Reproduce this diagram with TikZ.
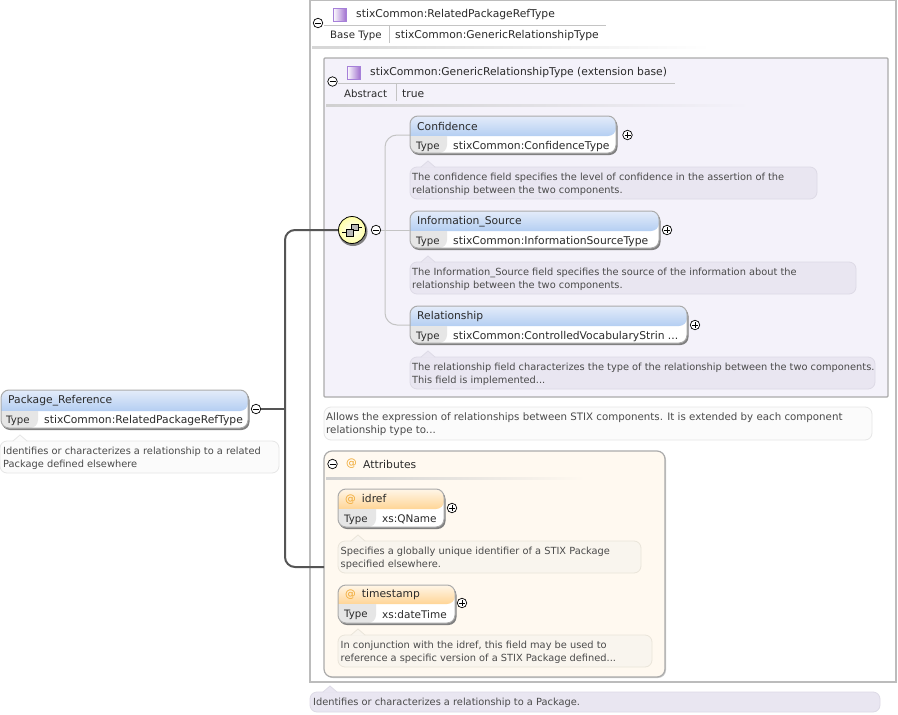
\documentclass[tikz,border=0pt]{standalone}
\usepackage{fontspec}
\setmainfont{DejaVu Sans}
\usetikzlibrary{calc,shadings}
\definecolor{txt}{HTML}{2A2A2A}
\definecolor{doctxt}{HTML}{4A4A4A}
\definecolor{edgegray}{HTML}{ABABAB}
\definecolor{shadowgray}{HTML}{808080}
\definecolor{thickc}{HTML}{555555}
\definecolor{thinc}{HTML}{C4C4C4}
\definecolor{lav}{HTML}{E9E6F1}
\definecolor{lavedge}{HTML}{DDDAE6}
\definecolor{wdoc}{HTML}{FBFBFB}
\definecolor{wedge}{HTML}{E6E6E6}
\definecolor{cdoc}{HTML}{F9F5EE}
\definecolor{cedge}{HTML}{EAE5DA}
\definecolor{basebg}{HTML}{F4F2FA}
\definecolor{attrbg}{HTML}{FFF9F0}
\definecolor{cellgray}{HTML}{E6E6E6}
\definecolor{atcolor}{HTML}{F0A830}
\definecolor{bluetop}{HTML}{E4ECFA}
\definecolor{bluebot}{HTML}{B4CEF2}
\definecolor{orgtop}{HTML}{FFF6E8}
\definecolor{orgbot}{HTML}{FFD596}
\tikzset{
  lbl/.style={inner sep=0pt,anchor=west,text=txt,font=\fontsize{10.75}{12}\selectfont},
  vlbl/.style={lbl,yshift=-1.5pt},
  klbl/.style={lbl,yshift=-1.5pt,font=\fontsize{10.2}{12}\selectfont},
  xlbl/.style={lbl,yshift=-1.5pt,font=\fontsize{10.5}{12}\selectfont},
  dlbl/.style={inner sep=0pt,anchor=west,align=left,yshift=-1pt,text=doctxt,font=\fontsize{9.82}{13}\selectfont},
  dlblw/.style={dlbl,font=\fontsize{10.25}{13}\selectfont},
  tog/.style={circle,draw=black,fill=white,line width=.7pt,minimum size=9.5pt,inner sep=0pt},
  thinline/.style={draw=thinc,line width=1pt},
  thickline/.style={draw=thickc,line width=2pt},
  typesq/.style={draw=none,minimum size=13pt,inner sep=0pt,left color=white,right color=purple!45!blue!55!white},
}
\newcommand{\xminus}[3]{\node[tog] (#1) at (#2,#3) {};\draw[line width=.8pt] ($(#1.center)+(-3,0)$) -- ($(#1.center)+(3,0)$);}
\newcommand{\xplus}[3]{\node[tog] (#1) at (#2,#3) {};\draw[line width=.8pt] ($(#1.center)+(-3,0)$) -- ($(#1.center)+(3,0)$);\draw[line width=.8pt] ($(#1.center)+(0,-3)$) -- ($(#1.center)+(0,3)$);}
% name, x, top, right, split, bottom, cell right, palette (blue/org), title x offset
\newcommand{\xelem}[9]{%
  \fill[shadowgray,rounded corners=8] (#2+1,#3+2) rectangle (#4+1.5,#6+2);
  \fill[white,rounded corners=8] (#2,#3) rectangle (#4,#6);
  \shade[top color=#8top,bottom color=#8bot,rounded corners=8]
     (#2,#5) -- (#2,#3) -- (#4,#3) -- (#4,#5) [sharp corners] -- cycle;
  \fill[cellgray,rounded corners=8] (#2,#5) -- (#2,#6) -- (#7,#6) [sharp corners] -- (#7,#5) -- cycle;
  \draw[edgegray,line width=1pt,rounded corners=8] (#2,#3) rectangle (#4,#6);
  \node[lbl] (#1-title) at (#2+#9,{(#3+#5)/2+.5}) {\xtitle};
  \coordinate (#1-w) at (#2,#5-1);
}
\newcommand{\xdoc}[8]{%
  \draw[draw=#8,fill=#7,line width=.8pt,rounded corners=7] (#2,#3) rectangle (#4,#5);
  \fill[#7] (#6-7,#3+.6) -- (#6,#3-6) -- (#6+7,#3+.6) -- cycle;
  \draw[#8,line width=.8pt] (#6-7,#3) -- (#6,#3-6) -- (#6+7,#3);
  \coordinate (#1) at (#6,#3-6);
}
\begin{document}
\begin{tikzpicture}[x=1pt,y=-1pt]
\useasboundingbox (0,0) rectangle (898,715);
\fill[white] (0,0) rectangle (898,715);

% outer type box
\draw[draw=edgegray!80!white,fill=white,line width=1.2pt] (310,.6) rectangle (896,682);
\node[typesq] (outersq) at (339.5,14.5) {};
\draw[purple!40!blue!50!white,line width=.5pt] (outersq.south west) rectangle (outersq.north east);
\node[lbl] (outertitle) at (356,14.5) {stixCommon:RelatedPackageRefType};
\draw[thinc,line width=.8pt] (324,25.5) -- (606,25.5);
\draw[thinc,line width=.8pt] (389.5,26) -- (389.5,43);
\node[klbl] (outerk) at (330,34) {Base Type};
\node[vlbl] (outerv) at (395,34) {stixCommon:GenericRelationshipType};
\shade[left color=thinc!70!white,right color=white] (312,46) rectangle (710,48);
\xminus{outermin}{318}{23}

% base type box
\draw[draw=edgegray,fill=basebg,line width=1.2pt,rounded corners=1] (324,58) rectangle (888,397);
\node[typesq] (basesq) at (353.5,72.5) {};
\draw[purple!40!blue!50!white,line width=.5pt] (basesq.south west) rectangle (basesq.north east);
\node[lbl] (basetitle) at (370,72.5) {stixCommon:GenericRelationshipType (extension base)};
\draw[thinc,line width=.8pt] (338,83.5) -- (675,83.5);
\draw[thinc,line width=.8pt] (396.5,84) -- (396.5,101);
\node[klbl] (basek) at (344,92) {Abstract};
\node[vlbl] (basev) at (402,92) {true};
\shade[left color=thinc!80!white,right color=basebg] (326,104.5) rectangle (750,106);
\xminus{basemin}{332.5}{81.5}

% tree connectors (behind boxes)
\coordinate (trunktop) at (385,135);
\coordinate (trunkbot) at (385,325);
\coordinate (confw) at (410,135);
\coordinate (relw) at (410,325);
\draw[thinline,rounded corners=12] (confw) -- (trunktop) -- (trunkbot) -- (relw);

% elements inside base type
\def\xtitle{Confidence}
\xelem{conf}{410}{116}{616}{136}{153}{447}{blue}{7}
\node[klbl] (confk) at (416,145) {Type};
\node[vlbl] (confv) at (453,145) {stixCommon:ConfidenceType};
\xplus{confp}{627.5}{135}
\xdoc{confn}{410}{167}{817}{199}{428}{lav}{lavedge}
\node[dlbl] (confd) at (412,183) {The confidence field specifies the level of confidence in the assertion of the\\relationship between the two components.};

\def\xtitle{Information\_Source}
\xelem{info}{410}{211}{659}{231}{248}{447}{blue}{7}
\node[klbl] (infok) at (416,240) {Type};
\node[vlbl] (infov) at (453,240) {stixCommon:InformationSourceType};
\xplus{infop}{667}{230}
\xdoc{infon}{410}{262}{856}{294}{428}{lav}{lavedge}
\node[dlbl] (infod) at (412,278) {The Information\_Source field specifies the source of the information about the\\relationship between the two components.};

\def\xtitle{Relationship}
\xelem{rel}{410}{306}{687}{326}{343}{447}{blue}{7}
\node[klbl] (relk) at (416,335) {Type};
\node[vlbl] (relv) at (453,335) {stixCommon:ControlledVocabularyStrin ...};
\xplus{relp}{695}{325}
\xdoc{reln}{410}{357}{875}{389}{428}{lav}{lavedge}
\node[dlbl] (reld) at (412,373) {The relationship field characterizes the type of the relationship between the two components.\\This field is implemented...};

% sequence compositor
\xminus{seqmin}{376}{230}
\draw[thinline] (seqmin) -- (info-w);
\fill[shadowgray] (353,231.5) circle (14.5);
\node[circle,draw=black,line width=.8pt,inner color=white,outer color=yellow!35!white,minimum size=27pt,inner sep=0pt] (seq) at (352,230) {};
\draw[line width=.8pt] ($(seq.center)+(-10,2)$) -- ($(seq.center)+(-5,2)$);
\draw[line width=.8pt] ($(seq.center)+(5,-3)$) -- ($(seq.center)+(10,-3)$);
\draw[fill=gray!55,line width=.6pt] ($(seq.center)+(-1,-6)$) rectangle ($(seq.center)+(6,0)$);
\draw[fill=gray!55,line width=.6pt] ($(seq.center)+(-6,-1)$) rectangle ($(seq.center)+(1,6)$);

% base doc
\draw[draw=wedge,fill=wdoc,line width=.8pt,rounded corners=7] (324,407) rectangle (872,440);
\node[dlblw] (based) at (326,423) {Allows the expression of relationships between STIX components. It is extended by each component\\relationship type to...};

% attributes group
\fill[shadowgray!40!white,rounded corners=8] (325,452) rectangle (666,678);
\draw[draw=edgegray,fill=attrbg,line width=1.2pt,rounded corners=8] (324,451) rectangle (665,677);
\xminus{attrmin}{332.5}{464}
\node[lbl,text=atcolor] (attrat) at (346,464) {@};
\node[lbl] (attrt) at (363,464) {Attributes};
\shade[left color=thinc!80!white,right color=attrbg] (326,477.5) rectangle (585,479);

\def\xtitle{{\color{atcolor}@}\hspace{6pt}idref}
\xelem{idref}{338}{489}{444}{509}{527}{376}{org}{7}
\node[klbl] (idrefk) at (344,518) {Type};
\node[xlbl] (idrefv) at (382,518) {xs:QName};
\xplus{idrefp}{452}{508}
\xdoc{idrefn}{338}{541}{641}{573}{358}{cdoc}{cedge}
\node[dlbl] (idrefd) at (340.5,557) {Specifies a globally unique identifier of a STIX Package\\specified elsewhere.};

\def\xtitle{{\color{atcolor}@}\hspace{6pt}timestamp}
\xelem{ts}{338}{585}{455}{604}{623}{376}{org}{7}
\node[klbl] (tsk) at (344,613) {Type};
\node[xlbl] (tsv) at (382,613) {xs:dateTime};
\xplus{tsp}{462}{603}
\xdoc{tsn}{338}{635}{652}{667}{358}{cdoc}{cedge}
\node[dlbl] (tsd) at (340.5,651) {In conjunction with the idref, this field may be used to\\reference a specific version of a STIX Package defined...};

% bottom doc
\xdoc{botn}{310}{692}{880}{712}{330}{lav}{lavedge}
\node[dlbl] (botd) at (313,702) {Identifies or characterizes a relationship to a Package.};

% root element
\def\xtitle{Package\_Reference}
\xelem{root}{1}{390}{248}{411}{428}{38}{blue}{7}
\node[klbl] (rootk) at (6,419.5) {Type};
\node[vlbl] (rootv) at (44,419.5) {stixCommon:RelatedPackageRefType};
\xminus{rootmin}{256}{409}
\xdoc{rootn}{0}{441}{279}{473}{20}{wdoc}{wedge}
\node[dlbl] (rootd) at (3,457) {Identifies or characterizes a relationship to a related\\Package defined elsewhere};

% thick connectors
\coordinate (hub) at (285,409);
\coordinate (attrend) at (324,567);
\draw[thickline] (rootmin) -- (hub);
\draw[thickline,rounded corners=10] (seq.west) -- (285,230) -- (285,567) -- (attrend);
\end{tikzpicture}
\end{document}
